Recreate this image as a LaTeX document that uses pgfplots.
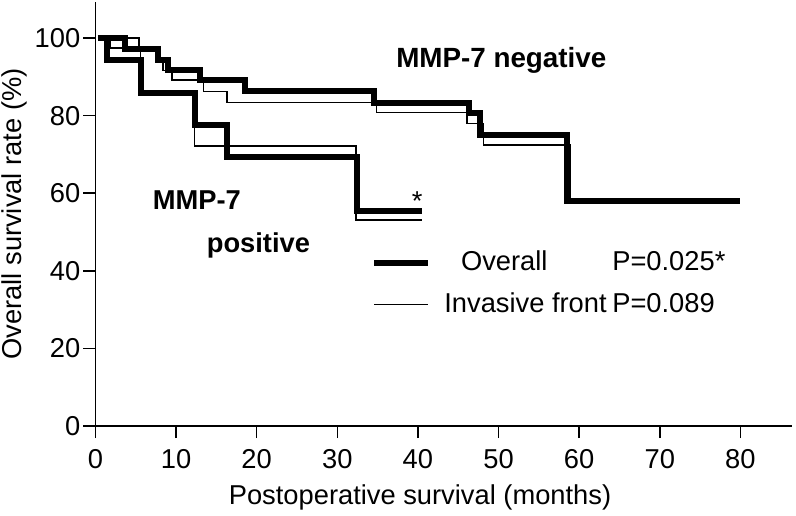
\documentclass[border=0pt]{standalone}
\usepackage{fontspec}
\setmainfont{Liberation Sans}
\usepackage{pgfplots}
\pgfplotsset{compat=1.18}
\begin{document}
\fontsize{27.3}{32}\selectfont
\begin{tikzpicture}
\begin{axis}[
  name=ax,
  scale only axis,
  width=696.6pt, height=424pt,
  xmin=0, xmax=86.4, ymin=0, ymax=109.3,
  axis x line*=bottom, axis y line*=left,
  axis line style={line width=1.5pt, black},
  tick align=outside,
  major tick length=12pt,
  tick style={line width=1.5pt, black},
  xtick={0,10,...,80}, ytick={0,20,...,100},
  /pgf/number format/assume math mode=true,
  tick label style={font=\fontsize{27.3}{32}\selectfont},
  yticklabel style={inner xsep=3pt},
  xticklabel style={yshift=-2pt},
  label style={font=\fontsize{27.3}{32}\selectfont},
  xlabel={Postoperative survival (months)},
  ylabel={Overall survival rate (\%)},
  every axis x label/.style={at={(axis description cs:0.466,-0.168)}, anchor=center},
  every axis y label/.style={at={(axis description cs:-0.1163,0.5)}, rotate=90, anchor=center},
  legend style={at={(axis cs:34.2,36.7)}, anchor=west, draw=none, fill=none,
    inner sep=0pt, nodes={inner sep=0pt}, row sep=18pt, column sep=13pt,
    font=\fontsize{27.3}{32}\selectfont},
  legend cell align=left,
  legend image code/.code={\draw[#1] (0pt,0pt) -- (54pt,0pt);},
]
\addplot[black, line width=6pt, const plot, line join=miter] coordinates {
 (0.3,100) (3.7,97.1) (7.8,94.3) (9.0,91.8) (13.0,89.2) (18.5,86.4) (34.5,83.3)
 (46.4,80.6) (47.7,75.0) (58.5,58.0) (80.0,58.0)};
\addlegendentry{\makebox[168pt][l]{\hspace{16.7pt}Overall}P=0.025*}
\addplot[black, line width=1.4pt, const plot, line join=miter] coordinates {
 (0.3,100) (5.4,96.9) (7.8,94.3) (8.4,91.7) (9.5,89.2) (13.4,86.2) (16.3,83.4)
 (34.9,80.8) (46.1,78.0) (48.1,72.4) (58.9,57.8) (80.0,57.8)};
\addlegendentry{\makebox[168pt][l]{Invasive front}P=0.089}
\addplot[black, line width=6pt, const plot, line join=miter, forget plot] coordinates {
 (0.3,100) (1.5,94.4) (5.7,85.8) (12.4,77.6) (16.3,69.4) (32.4,55.4) (40.5,55.4)};
\addplot[black, line width=1.4pt, const plot, line join=miter, forget plot] coordinates {
 (0.3,100) (1.8,97.4) (5.6,85.8) (12.3,72.2) (32.3,53.1) (40.5,53.1)};
\node[anchor=base east, inner sep=0pt, font=\bfseries\fontsize{27.8}{32}\selectfont] at (axis cs:63.4,92.5) {MMP-7 negative};
\node[anchor=base west, inner sep=0pt, font=\bfseries\fontsize{27.3}{32}\selectfont] at (axis cs:7.1,55.8) {MMP-7};
\node[anchor=base west, inner sep=0pt, font=\bfseries\fontsize{27.3}{32}\selectfont] at (axis cs:13.8,44.8) {positive};
\node[anchor=base, inner sep=0pt, font=\fontsize{27.3}{32}\selectfont] at (axis cs:39.9,55.6) {*};
\end{axis}
\pgfresetboundingbox
\path (ax.south west) ++(-95.4pt,-89pt) rectangle ++(796pt,515pt);
\end{tikzpicture}
\end{document}
